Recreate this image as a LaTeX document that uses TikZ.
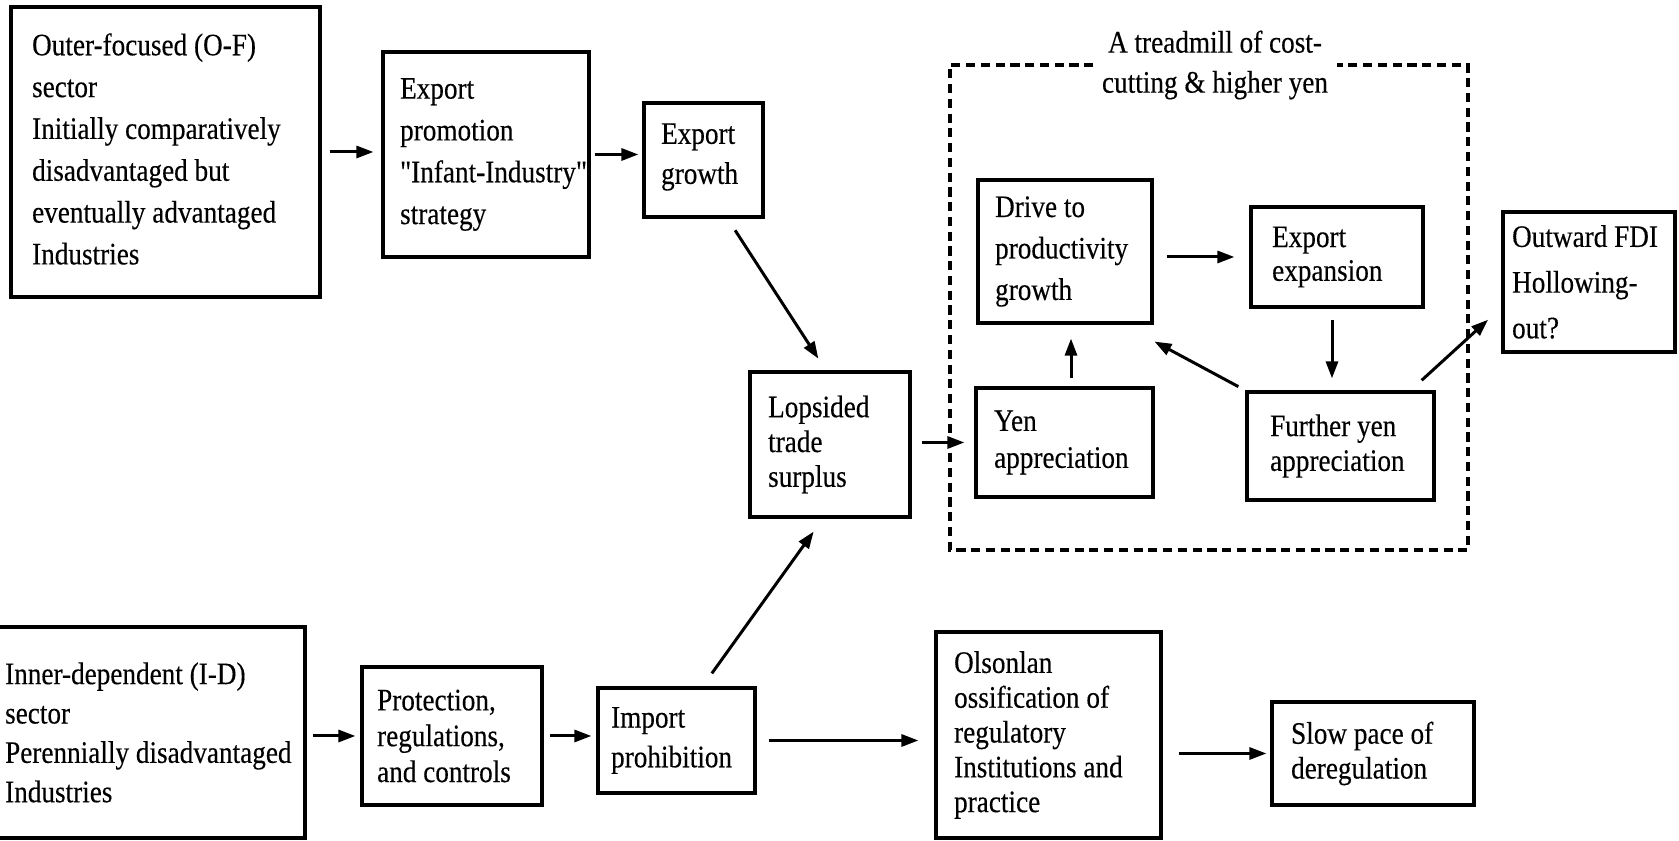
\documentclass[tikz,border=0pt]{standalone}
\usepackage{fontspec}
\newfontfamily\diagfont{Liberation Serif}[FakeStretch=0.87,FakeBold=0.3]
\usetikzlibrary{arrows.meta}

\begin{document}
\begin{tikzpicture}[
   blk/.style={draw,line width=0.9pt,inner sep=0pt},
   txt/.style={anchor=west,align=left,inner sep=0pt,
               font=\diagfont\fontsize{8.9}{#1}\selectfont},
   txt/.default=11.5,
   arr/.style={line width=0.85pt,-{Triangle[length=1.7mm,width=1.2mm]}},
   loopbox/.style={line width=1pt,dash pattern=on 2.6pt off 1.6pt}
]
\useasboundingbox (0,0) rectangle (16.79,-8.41);

% =========== Outer-focused sector (upper row) ============
\node[blk,minimum width=3.09cm,minimum height=2.90cm] (OF) at (1.655,-1.52) {};
\node[txt=11.9] (OFt) at ([xshift=0.22cm,yshift=0.03cm]OF.west)
   {Outer-focused (O-F)\\sector\\Initially comparatively\\disadvantaged but\\eventually advantaged\\Industries};

\node[blk,minimum width=2.06cm,minimum height=2.05cm] (EP) at (4.86,-1.545) {};
\node[txt=11.9] (EPt) at ([xshift=0.18cm]EP.west)
   {Export\\promotion\\"Infant-Industry"\\strategy};

\node[blk,minimum width=1.19cm,minimum height=1.14cm] (EG) at (7.035,-1.60) {};
\node[txt=11.4] (EGt) at ([xshift=0.18cm,yshift=0.03cm]EG.west) {Export\\growth};

\node[blk,minimum width=1.60cm,minimum height=1.45cm] (LT) at (8.30,-4.445) {};
\node[txt=9.9] (LTt) at ([xshift=0.19cm]LT.west) {Lopsided\\trade\\surplus};

% =========== Treadmill loop (dashed frame) ============
\node[align=center,inner sep=0.08cm,font=\diagfont\fontsize{8.9}{11.4}\selectfont]
   (TM) at (12.15,-0.65) {A treadmill of cost-\\cutting \& higher yen};
\draw[loopbox] (TM.west) -- (9.50,-0.65) -- (9.50,-5.50) -- (14.68,-5.50)
   -- (14.68,-0.65) -- (TM.east);

\node[blk,minimum width=1.74cm,minimum height=1.43cm] (DR) at (10.65,-2.515) {};
\node[txt=11.8] (DRt) at ([xshift=0.18cm]DR.west) {Drive to\\productivity\\growth};

\node[blk,minimum width=1.72cm,minimum height=1.00cm] (EE) at (13.37,-2.57) {};
\node[txt=9.6] (EEt) at ([xshift=0.22cm]EE.west) {Export\\expansion};

\node[blk,minimum width=1.77cm,minimum height=1.09cm] (YA) at (10.645,-4.425) {};
\node[txt=10.5] (YAt) at ([xshift=0.19cm]YA.west) {Yen\\appreciation};

\node[blk,minimum width=1.87cm,minimum height=1.08cm] (FY) at (13.405,-4.46) {};
\node[txt=9.9] (FYt) at ([xshift=0.24cm]FY.west) {Further yen\\appreciation};

\node[blk,minimum width=1.72cm,minimum height=1.40cm] (OUT) at (15.89,-2.82) {};
\node[txt=13] (OUTt) at ([xshift=0.10cm]OUT.west) {Outward FDI\\Hollowing-\\out?};

% =========== Inner-dependent sector (lower row) ============
\node[blk,minimum width=3.10cm,minimum height=2.11cm] (ID) at (1.50,-7.325) {};
\node[txt=11.2] (IDt) at ([xshift=0.11cm]ID.west)
   {Inner-dependent (I-D)\\sector\\Perennially disadvantaged\\Industries};

\node[blk,minimum width=1.80cm,minimum height=1.38cm] (PR) at (4.52,-7.36) {};
\node[txt=10.2] (PRt) at ([xshift=0.16cm]PR.west) {Protection,\\regulations,\\and controls};

\node[blk,minimum width=1.57cm,minimum height=1.05cm] (IM) at (6.765,-7.405) {};
\node[txt=11.3] (IMt) at ([xshift=0.14cm]IM.west) {Import\\prohibition};

\node[blk,minimum width=2.25cm,minimum height=2.06cm] (OL) at (10.485,-7.35) {};
\node[txt=9.9] (OLt) at ([xshift=0.19cm]OL.west)
   {Olsonlan\\ossification of\\regulatory\\Institutions and\\practice};

\node[blk,minimum width=2.02cm,minimum height=1.03cm] (SL) at (13.73,-7.535) {};
\node[txt=9.9] (SLt) at ([xshift=0.20cm]SL.west) {Slow pace of\\deregulation};

% =========== Arrows ============
\draw[arr,shorten <=0.08cm,shorten >=0.08cm] (OF.east) -- (OF.east -| EP.west);
\draw[arr,shorten <=0.04cm,shorten >=0.04cm] (EP.east) -- (EP.east -| EG.west);
\draw[arr,shorten <=0.14cm,shorten >=0.14cm] ([xshift=0.24cm]EG.south) -- ([xshift=-0.04cm]LT.north);
\draw[arr,shorten <=0.16cm,shorten >=0.16cm] ([xshift=0.26cm]IM.north) -- ([xshift=-0.07cm]LT.south);
\draw[arr,shorten <=0.10cm,shorten >=0.10cm] (YA.west -| LT.east) -- (YA.west);

% inside the loop
\draw[arr,shorten <=0.08cm,shorten >=0.14cm] ([xshift=0.065cm]YA.north) -- ([xshift=0.065cm]YA.north |- DR.south);
\draw[arr,shorten <=0.13cm,shorten >=0.15cm] (EE.west -| DR.east) -- (EE.west);
\draw[arr,shorten <=0.11cm,shorten >=0.12cm] ([xshift=-0.05cm]EE.south) -- ([xshift=-0.05cm]EE.south |- FY.north);
\draw[arr,shorten <=0.08cm,shorten >=0.01cm] (FY.north west) -- ([yshift=-0.165cm]DR.south east);
\draw[arr,shorten <=0.15cm,shorten >=0.18cm] ([xshift=-0.25cm]FY.north east) -- ([yshift=0.46cm]OUT.south west);

% lower row
\draw[arr,shorten <=0.06cm,shorten >=0.05cm] (PR.west -| ID.east) -- (PR.west);
\draw[arr,shorten <=0.06cm,shorten >=0.05cm] (PR.east) -- (PR.east -| IM.west);
\draw[arr,shorten <=0.12cm,shorten >=0.16cm] (IM.east) -- (IM.east -| OL.west);
\draw[arr,shorten <=0.16cm,shorten >=0.04cm] (SL.west -| OL.east) -- (SL.west);

\end{tikzpicture}
\end{document}
